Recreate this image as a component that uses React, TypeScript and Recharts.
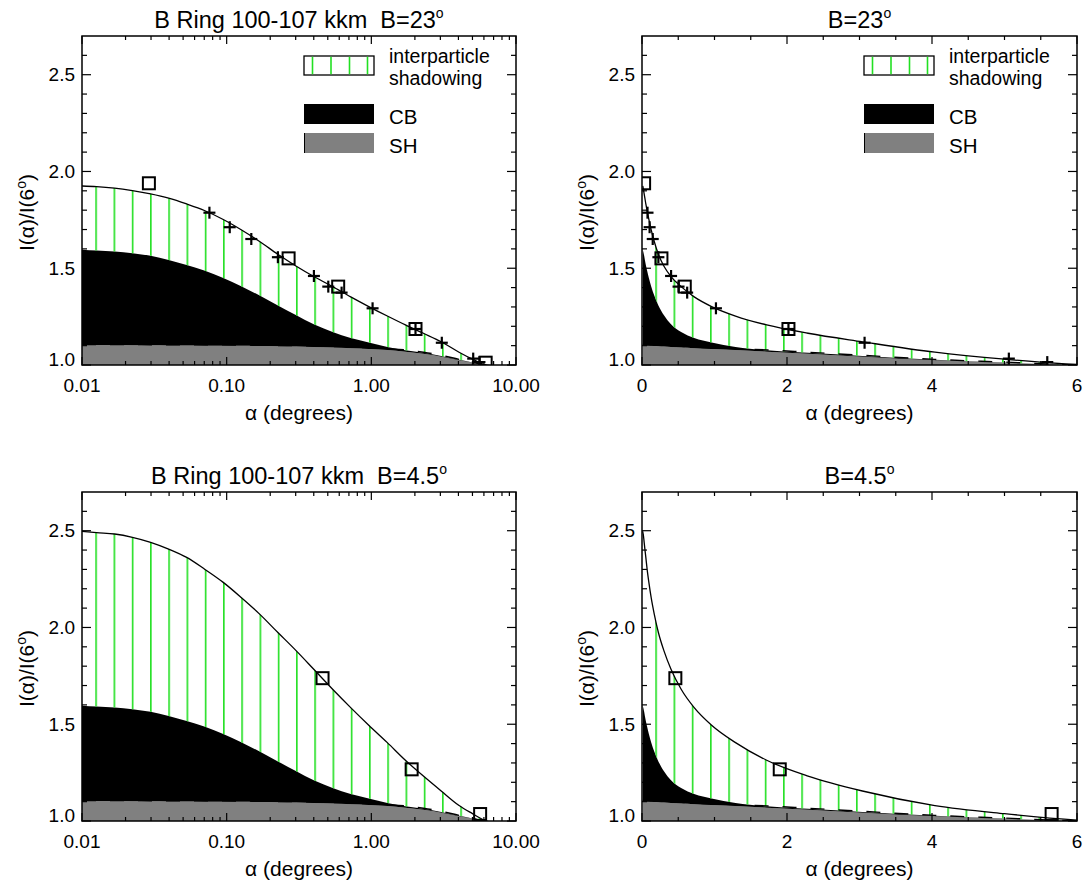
import React from 'react';
import { ComposedChart, Area, Line, Scatter, XAxis, YAxis, ReferenceArea } from 'recharts';

// ---------- data ----------
const alpha = [0.01, 0.0126, 0.0168, 0.0223, 0.0298, 0.0397, 0.0529, 0.0708, 0.0947, 0.126, 0.169, 0.226, 0.303, 0.4, 0.54, 0.72, 0.96, 1.29, 1.72, 2.29, 3.04, 4.04, 5.0, 6.0, 7.0, 10.0];
const totalB23 = [1.925, 1.922, 1.914, 1.901, 1.884, 1.862, 1.832, 1.797, 1.752, 1.699, 1.638, 1.572, 1.51, 1.457, 1.405, 1.352, 1.302, 1.253, 1.207, 1.164, 1.12, 1.066, 1.03, 1.003, 0.995, 0.985];
const totalB45 = [2.497, 2.49, 2.483, 2.466, 2.44, 2.405, 2.362, 2.3, 2.233, 2.155, 2.069, 1.974, 1.879, 1.784, 1.681, 1.586, 1.495, 1.405, 1.314, 1.232, 1.155, 1.08, 1.038, 1.005, 0.99, 0.975];
const cbPlusSh = [1.596, 1.591, 1.586, 1.578, 1.564, 1.543, 1.517, 1.487, 1.45, 1.407, 1.359, 1.308, 1.257, 1.21, 1.17, 1.139, 1.116, 1.093, 1.076, 1.063, 1.047, 1.027, 1.013, 1.0, 0.995, 0.99];
const shOnly = [1.103, 1.103, 1.103, 1.102, 1.102, 1.101, 1.101, 1.1, 1.1, 1.099, 1.098, 1.097, 1.095, 1.093, 1.09, 1.087, 1.083, 1.077, 1.069, 1.058, 1.043, 1.024, 1.011, 1.0, 0.995, 0.99];
const dashedCurve = [1.106, 1.106, 1.106, 1.106, 1.105, 1.105, 1.105, 1.104, 1.104, 1.103, 1.102, 1.101, 1.1, 1.098, 1.096, 1.093, 1.089, 1.084, 1.078, 1.066, 1.05, 1.029, 1.015, 1.0, 0.995, 0.99];

const squaresB23 = [[0.029, 1.939], [0.268, 1.551], [0.59, 1.405], [2.02, 1.186], [6.17, 1.012]];
const plusesB23 = [[0.076, 1.787], [0.105, 1.712], [0.148, 1.651], [0.226, 1.557], [0.401, 1.46], [0.504, 1.405], [0.623, 1.374], [1.02, 1.293], [2.02, 1.186], [3.07, 1.115], [5.06, 1.033], [5.59, 1.015]];
const squaresB45 = [[0.46, 1.738], [1.9, 1.267], [5.65, 1.036]];
const plusesB45: number[][] = [];

// ---------- ticks ----------
const logMajor = [0.01, 0.1, 1, 10];
const logMinor = [0.02, 0.03, 0.04, 0.05, 0.06, 0.07, 0.08, 0.09, 0.2, 0.3, 0.4, 0.5, 0.6, 0.7, 0.8, 0.9, 2, 3, 4, 5, 6, 7, 8, 9];
const logLabels = ['0.01', '0.10', '1.00', '10.00'];
const linMajor = [0, 2, 4, 6];
const linMinor = [0.5, 1, 1.5, 2.5, 3, 3.5, 4.5, 5, 5.5];
const linLabels = ['0', '2', '4', '6'];
const yMajor = [1.0, 1.5, 2.0, 2.5];
const yMinor = [1.1, 1.2, 1.3, 1.4, 1.6, 1.7, 1.8, 1.9, 2.1, 2.2, 2.3, 2.4, 2.6];
const yLabels = ['1.0', '1.5', '2.0', '2.5'];

const FONT = '"Liberation Sans", Arial, Helvetica, sans-serif';
const GREEN = '#22e022';
const W = 544;
const H = 444;

type Cfg = {
  id: string; x0: number; y0: number; L: number; R: number; T: number; B: number;
  log: boolean; total: number[]; squares: number[][]; pluses: number[][];
  title: string; legend: boolean; phase: number;
};

const panels: Cfg[] = [
  { id: 'tl', x0: 0, y0: 0, L: 82, R: 516, T: 36, B: 365, log: true, total: totalB23, squares: squaresB23, pluses: plusesB23, title: 'B Ring 100-107 kkm  B=23', legend: true, phase: 4.05 },
  { id: 'tr', x0: 544, y0: 0, L: 642, R: 1077, T: 36, B: 365, log: false, total: totalB23, squares: squaresB23, pluses: plusesB23, title: 'B=23', legend: true, phase: 1.8 },
  { id: 'bl', x0: 0, y0: 443, L: 82, R: 516, T: 492, B: 821, log: true, total: totalB45, squares: squaresB45, pluses: plusesB45, title: 'B Ring 100-107 kkm  B=4.5', legend: false, phase: 4.05 },
  { id: 'br', x0: 544, y0: 443, L: 642, R: 1077, T: 492, B: 821, log: false, total: totalB45, squares: squaresB45, pluses: plusesB45, title: 'B=4.5', legend: false, phase: 1.8 },
];

const makeRows = (total: number[]) =>
  alpha.map((a, i) => ({
    a,
    total: total[i],
    sh: shOnly[i],
    dash: dashedCurve[i],
    cbBand: [shOnly[i], cbPlusSh[i]],
    hatch: [cbPlusSh[i], total[i]],
  }));

const toPts = (arr: number[][]) => arr.map(([a, y]) => ({ a, y }));

const SquareShape = (p: any) => (
  <rect x={p.cx - 6} y={p.cy - 6} width={12} height={12} fill="none" stroke="#000" strokeWidth={2} />
);
const PlusShape = (p: any) => (
  <g stroke="#000" strokeWidth={2.2}>
    <line x1={p.cx - 6} x2={p.cx + 6} y1={p.cy} y2={p.cy} />
    <line x1={p.cx} x2={p.cx} y1={p.cy - 6} y2={p.cy + 6} />
  </g>
);

function Panel({ cfg }: { cfg: Cfg }) {
  const rows = makeRows(cfg.total);
  const lt = cfg.T - cfg.y0;
  const lb = cfg.B - cfg.y0;
  const ll = cfg.L - cfg.x0;
  const lr = cfg.R - cfg.x0;
  const xMajor = cfg.log ? logMajor : linMajor;
  const xMinor = cfg.log ? logMinor : linMinor;
  const xLabels = cfg.log ? logLabels : linLabels;
  const xDomain = cfg.log ? [0.01, 10] : [0, 6];
  const pid = 'hatch-' + cfg.id;

  const xTick = (p: any) => {
    const x = p.payload.coordinate;
    const mi = xMajor.indexOf(p.payload.value);
    const len = mi >= 0 ? 8 : 4;
    return (
      <g>
        <line x1={x} x2={x} y1={lb} y2={lb - len} stroke="#000" strokeWidth={1.2} />
        <line x1={x} x2={x} y1={lt} y2={lt + len} stroke="#000" strokeWidth={1.2} />
        {mi >= 0 && (
          <text x={x} y={lb + 27} textAnchor="middle" fontSize={19} fontFamily={FONT} fill="#000">
            {xLabels[mi]}
          </text>
        )}
      </g>
    );
  };
  const yTick = (p: any) => {
    const y = p.payload.coordinate;
    const v = p.payload.value;
    const mi = yMajor.indexOf(v);
    const len = mi >= 0 ? 9 : 5;
    return (
      <g>
        <line x1={ll} x2={ll + len} y1={y} y2={y} stroke="#000" strokeWidth={1.2} />
        <line x1={lr} x2={lr - len} y1={y} y2={y} stroke="#000" strokeWidth={1.2} />
        {mi >= 0 && (
          <text x={ll - 7} y={y + (v === 1 ? 1 : 6.5)} textAnchor="end" fontSize={19} fontFamily={FONT} fill="#000">
            {yLabels[mi]}
          </text>
        )}
      </g>
    );
  };

  return (
    <div style={{ position: 'absolute', left: cfg.x0, top: cfg.y0, width: W, height: H }}>
      <ComposedChart width={W} height={H} data={rows} margin={{ top: lt, right: W - lr, left: 0, bottom: 0 }}>
        <defs>
          <pattern id={pid} patternUnits="userSpaceOnUse" x={cfg.phase} y={0} width={18.25} height={20}>
            <rect x={0} y={0} width={1.6} height={20} fill={GREEN} />
          </pattern>
        </defs>
        <XAxis
          dataKey="a"
          type="number"
          scale={cfg.log ? 'log' : 'linear'}
          domain={xDomain}
          allowDataOverflow
          ticks={[...xMajor, ...xMinor]}
          interval={0}
          tick={xTick}
          tickLine={false}
          axisLine={false}
          height={H - lb}
        />
        <YAxis
          type="number"
          domain={[1, 2.7]}
          allowDataOverflow
          ticks={[...yMajor, ...yMinor]}
          interval={0}
          tick={yTick}
          tickLine={false}
          axisLine={false}
          width={ll}
        />
        <Area dataKey="sh" type="monotone" fill="#808080" fillOpacity={1} stroke="none" isAnimationActive={false} activeDot={false} />
        <Area dataKey="cbBand" type="monotone" fill="#000" fillOpacity={1} stroke="none" isAnimationActive={false} activeDot={false} />
        <Area dataKey="hatch" type="monotone" fill={`url(#${pid})`} fillOpacity={1} stroke="none" isAnimationActive={false} activeDot={false} />
        <Line dataKey="dash" type="monotone" stroke="#000" strokeWidth={1.4} strokeDasharray="14 14" dot={false} activeDot={false} isAnimationActive={false} />
        <Line dataKey="total" type="monotone" stroke="#000" strokeWidth={1.3} dot={false} activeDot={false} isAnimationActive={false} />
        <Scatter data={toPts(cfg.squares)} dataKey="y" shape={SquareShape} isAnimationActive={false} />
        {cfg.pluses.length > 0 && (
          <Scatter data={toPts(cfg.pluses)} dataKey="y" shape={PlusShape} isAnimationActive={false} />
        )}
        <ReferenceArea x1={xDomain[0]} x2={xDomain[1]} y1={1} y2={2.7} fill="none" fillOpacity={0} stroke="#000" strokeWidth={1.5} ifOverflow="visible" />
      </ComposedChart>
    </div>
  );
}

function Overlay() {
  return (
    <svg width={1088} height={887} style={{ position: 'absolute', left: 0, top: 0, pointerEvents: 'none' }} fontFamily={FONT} fill="#000">
      {panels.map((cfg) => {
        const cx = (cfg.L + cfg.R) / 2;
        const cy = (cfg.T + cfg.B) / 2 + 12;
        const lx = cfg.L + 222;
        return (
          <g key={cfg.id}>
            <text x={cx} y={cfg.T - 8} textAnchor="middle" fontSize={23.5} style={{ whiteSpace: 'pre' }}>
              {cfg.title}
              <tspan dy={-10} fontSize={14}>o</tspan>
            </text>
            <text x={cx} y={cfg.B + 55} textAnchor="middle" fontSize={21}>
              α (degrees)
            </text>
            <text transform={`translate(${cfg.L - 48},${cy}) rotate(-90)`} textAnchor="middle" fontSize={21}>
              I(α)/I(6<tspan dy={-8} fontSize={14}>o</tspan>
              <tspan dy={8}>)</tspan>
            </text>
            {cfg.legend && (
              <g>
                <rect x={lx} y={56} width={70} height={19} fill="#fff" stroke="#000" strokeWidth={1.3} />
                {[8.5, 27, 45.5, 63.5].map((d) => (
                  <line key={d} x1={lx + d} x2={lx + d} y1={56.7} y2={74.3} stroke={GREEN} strokeWidth={1.6} />
                ))}
                <rect x={lx} y={104} width={70} height={20} fill="#000" />
                <rect x={lx} y={133} width={70} height={20} fill="#808080" />
                <line x1={lx + 0.5} x2={lx + 0.5} y1={133} y2={153} stroke="#000" strokeWidth={1} />
                <text x={lx + 85} y={62.5} fontSize={19.5}>interparticle</text>
                <text x={lx + 85} y={84.5} fontSize={19.5}>shadowing</text>
                <text x={lx + 85} y={123.5} fontSize={20.5}>CB</text>
                <text x={lx + 85} y={152.5} fontSize={20.5}>SH</text>
              </g>
            )}
          </g>
        );
      })}
    </svg>
  );
}

export default function App() {
  return (
    <div style={{ position: 'absolute', left: 0, top: 0, width: 1088, height: 887, background: '#fff' }}>
      {panels.map((cfg) => (
        <Panel key={cfg.id} cfg={cfg} />
      ))}
      <Overlay />
    </div>
  );
}
